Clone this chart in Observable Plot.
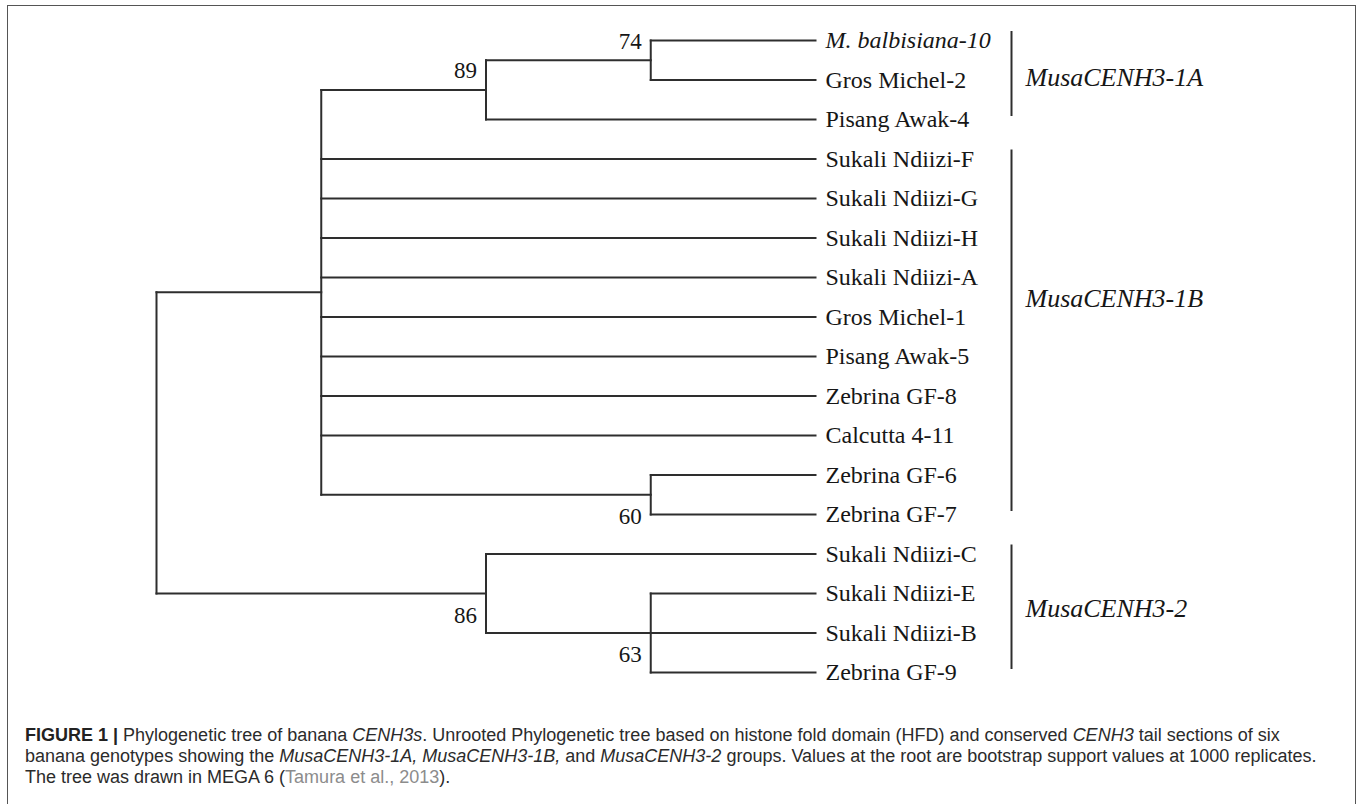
<!DOCTYPE html>
<html><head><meta charset="utf-8">
<script src="https://cdn.jsdelivr.net/npm/d3@7"></script>
<script src="https://cdn.jsdelivr.net/npm/@observablehq/plot@0.6"></script>
<style>
html,body{margin:0;padding:0;background:#fff;width:1360px;height:804px;overflow:hidden;position:relative}
#frame{position:absolute;left:7px;top:5px;width:1349px;height:830px;border:1.5px solid #555;box-sizing:border-box;z-index:2;pointer-events:none}
#chart{position:absolute;left:0;top:0}
#caption{position:absolute;left:25px;top:725px;font-family:"Liberation Sans",Arial,sans-serif;font-size:18px;line-height:21px;color:#2b2b2b;white-space:nowrap}
#caption b{color:#222}
#caption .ref{color:#8c8c8c}
</style></head><body>
<div id="frame"></div>
<div id="chart"></div>
<div id="caption"><b>FIGURE 1 |</b> Phylogenetic tree of banana <i>CENH3s</i>. Unrooted Phylogenetic tree based on histone fold domain (HFD) and conserved <i>CENH3</i> tail sections of six<br>banana genotypes showing the <i>MusaCENH3-1A, MusaCENH3-1B,</i> and <i>MusaCENH3-2</i> groups. Values at the root are bootstrap support values at 1000 replicates.<br>The tree was drawn in MEGA 6 (<span class="ref">Tamura et al., 2013</span>).</div>
<script>
// ---- data ----
const leaves = ["M. balbisiana-10","Gros Michel-2","Pisang Awak-4","Sukali Ndiizi-F","Sukali Ndiizi-G","Sukali Ndiizi-H","Sukali Ndiizi-A","Gros Michel-1","Pisang Awak-5","Zebrina GF-8","Calcutta 4-11","Zebrina GF-6","Zebrina GF-7","Sukali Ndiizi-C","Sukali Ndiizi-E","Sukali Ndiizi-B","Zebrina GF-9"];
const leafParent = ["n74","n74","n89","n1B","n1B","n1B","n1B","n1B","n1B","n1B","n1B","n60","n60","n86","n63","n63","n63"];
const italicLeaves = ["M. balbisiana-10"];
const internalNodes = ["root","n1B","n89","n74","n60","n86","n63"];
const internalParent = [null,"root","n1B","n89","n1B","root","n86"];
const bootstrap = [null,null,89,74,60,86,63];
const groups = ["MusaCENH3-1A","MusaCENH3-1B","MusaCENH3-2"];
const groupFirst = ["M. balbisiana-10","Sukali Ndiizi-F","Sukali Ndiizi-C"];
const groupLast = ["Pisang Awak-4","Zebrina GF-7","Zebrina GF-9"];

// ---- style ----
const INK = "#2e2e2e";
const TXT = "#161616";
const SERIF = "'Liberation Serif','Times New Roman',serif";
const groupLabelDy = [-2, -38, -5];

// ---- layout (topology only, MEGA style) ----
const rows = [
  ...internalNodes.map((id, i) => ({id, parent: internalParent[i], boot: bootstrap[i]})),
  ...leaves.map((id, i) => ({id, parent: leafParent[i], index: i}))
];
const root = d3.stratify().id(d => d.id).parentId(d => d.parent)(rows);
root.each(n => { n.minLeaf = d3.min(n.leaves(), l => l.data.index); });
root.sort((a, b) => a.minLeaf - b.minLeaf);
const H = root.height;
root.eachAfter(n => {
  n.lx = H - n.height;
  n.ly = n.children ? (n.children[0].ly + n.children[n.children.length - 1].ly) / 2 : n.data.index;
});
const horiz = root.descendants().filter(n => n.parent).map(n => ({x1: n.parent.lx, x2: n.lx, y: n.ly}));
const vert = root.descendants().filter(n => n.children).map(n => ({x: n.lx, y1: n.children[0].ly, y2: n.children[n.children.length - 1].ly}));
const leafNodes = root.leaves().map(n => ({name: n.data.id, x: n.lx, y: n.ly, italic: italicLeaves.includes(n.data.id)}));
const boots = root.descendants().filter(n => n.data.boot != null).map(n => ({v: n.data.boot, x: n.lx, y: n.ly, above: n.ly < root.ly}));
const groupData = groups.map((g, i) => ({g, i, x: H, y1: leaves.indexOf(groupFirst[i]), y2: leaves.indexOf(groupLast[i])}));

const lineOpts = {stroke: INK, strokeWidth: 2, strokeLinecap: "square"};
const plot = Plot.plot({
  width: 1360,
  height: 700,
  style: {background: "transparent"},
  x: {domain: [0, H], range: [156, 815], axis: null},
  y: {domain: [0, leaves.length - 1], range: [40, 672], axis: null},
  marks: [
    Plot.link(horiz, {x1: "x1", x2: "x2", y1: "y", y2: "y", ...lineOpts}),
    Plot.link(vert, {x1: "x", x2: "x", y1: "y1", y2: "y2", ...lineOpts}),
    Plot.text(leafNodes.filter(d => !d.italic), {x: "x", y: "y", text: "name", textAnchor: "start", dx: 10, fontSize: 24, fontFamily: SERIF, fill: TXT}),
    Plot.text(leafNodes.filter(d => d.italic), {x: "x", y: "y", text: "name", textAnchor: "start", dx: 10, fontSize: 24, fontStyle: "italic", fontFamily: SERIF, fill: TXT}),
    Plot.text(boots.filter(d => d.above), {x: "x", y: "y", text: "v", textAnchor: "end", dx: -9, dy: -19, fontSize: 23, fontFamily: SERIF, fill: TXT}),
    Plot.text(boots.filter(d => !d.above), {x: "x", y: "y", text: "v", textAnchor: "end", dx: -9, dy: 22, fontSize: 23, fontFamily: SERIF, fill: TXT}),
    Plot.ruleX(groupData, {x: "x", y1: "y1", y2: "y2", dx: 196, insetTop: -9, insetBottom: 3, stroke: INK, strokeWidth: 2}),
    ...groupData.map((d, i) => Plot.text([d], {x: "x", y: dd => (dd.y1 + dd.y2) / 2, text: "g", textAnchor: "start", dx: 210, dy: groupLabelDy[i], fontSize: 26, fontStyle: "italic", fontFamily: SERIF, fill: TXT}))
  ]
});
document.getElementById("chart").appendChild(plot);
</script>
</body></html>
